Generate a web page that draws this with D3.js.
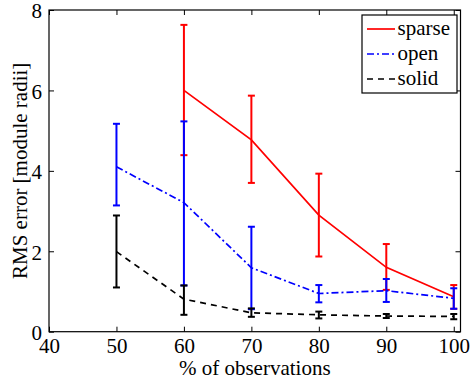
<!DOCTYPE html>
<html>
<head>
<meta charset="utf-8">
<script src="https://cdn.jsdelivr.net/npm/d3@7/dist/d3.min.js"></script>
<style>
  html, body { margin: 0; padding: 0; background: #fff; }
  svg { display: block; }
  text { font-family: "Liberation Serif", "Times New Roman", serif; fill: #000; }
</style>
</head>
<body>
<svg id="chart" width="472" height="380"></svg>
<script>
// Percentage of observations used
const observations = [50, 60, 70, 80, 90, 100];

// RMS error (module radii): mean, lower and upper error-bar ends
const sparseObs   = [60, 70, 80, 90, 100];
const sparseMean  = [6.00, 4.77, 2.90, 1.60, 0.87];
const sparseLow   = [4.39, 3.70, 1.87, 1.04, 0.57];
const sparseHigh  = [7.63, 5.87, 3.93, 2.18, 1.16];

const openMean    = [4.10, 3.21, 1.59, 0.95, 1.02, 0.83];
const openLow     = [3.14, 1.15, 0.56, 0.73, 0.74, 0.57];
const openHigh    = [5.17, 5.23, 2.61, 1.16, 1.31, 1.08];

const solidMean   = [1.99, 0.81, 0.47, 0.42, 0.39, 0.38];
const solidLow    = [1.10, 0.42, 0.37, 0.33, 0.34, 0.31];
const solidHigh   = [2.89, 1.15, 0.58, 0.50, 0.44, 0.44];

const xTicks = [40, 50, 60, 70, 80, 90, 100];
const yTicks = [0, 2, 4, 6, 8];

const seriesNames = ["sparse", "open", "solid"];

const FONT = "'Liberation Serif', 'Times New Roman', serif";
const svg = d3.select("#chart");
const plotLeft = 49, plotRight = 460.5, plotTop = 10, plotBottom = 331.7;

const x = d3.scaleLinear().domain([40, 101]).range([plotLeft, plotRight]);
const y = d3.scaleLinear().domain([0, 8]).range([plotBottom, plotTop]);

function build(xs, mean, low, high) {
  return xs.map((v, i) => ({ x: v, m: mean[i], lo: low[i], hi: high[i] }));
}

const series = [
  { name: seriesNames[0], color: "#ff0000", dash: null, data: build(sparseObs, sparseMean, sparseLow, sparseHigh) },
  { name: seriesNames[1], color: "#0000ff", dash: "7,3,2,3", data: build(observations, openMean, openLow, openHigh) },
  { name: seriesNames[2], color: "#000000", dash: "6,5", data: build(observations, solidMean, solidLow, solidHigh) }
];

// Axes frame with inward ticks on all sides
const tickLen = 5;
const axB = d3.axisBottom(x).tickValues(xTicks).tickSize(-tickLen).tickFormat(d3.format("d")).tickPadding(10);
const axT = d3.axisTop(x).tickValues(xTicks).tickSize(-tickLen).tickFormat("");
const axL = d3.axisLeft(y).tickValues(yTicks).tickSize(-tickLen).tickFormat(d3.format("d")).tickPadding(7);
const axR = d3.axisRight(y).tickValues(yTicks).tickSize(-tickLen).tickFormat("");

function styleAxis(g) {
  g.attr("font-family", FONT).attr("font-size", 21);
  g.select(".domain").remove();
  g.selectAll("line").attr("stroke", "#000").attr("stroke-width", 1);
  g.selectAll("text").style("font-size", "21px").style("font-family", FONT);
}

svg.append("g").attr("transform", `translate(0,${plotBottom})`).call(axB).call(styleAxis)
  .selectAll("text").attr("dy", "0.71em").attr("y", 6);
svg.append("g").attr("transform", `translate(0,${plotTop})`).call(axT).call(styleAxis);
svg.append("g").attr("transform", `translate(${plotLeft},0)`).call(axL).call(styleAxis)
  .selectAll("text").attr("dy", "0.38em");
svg.append("g").attr("transform", `translate(${plotRight},0)`).call(axR).call(styleAxis);

svg.append("rect")
  .attr("x", plotLeft).attr("y", plotTop)
  .attr("width", plotRight - plotLeft).attr("height", plotBottom - plotTop)
  .attr("fill", "none").attr("stroke", "#000").attr("stroke-width", 1.2);

// Series: connecting line plus error bars
const line = d3.line().x(d => x(d.x)).y(d => y(d.m));
const cap = 3.5;

series.forEach(s => {
  const g = svg.append("g");
  g.append("path")
    .datum(s.data)
    .attr("d", line)
    .attr("fill", "none")
    .attr("stroke", s.color)
    .attr("stroke-width", 1.7)
    .attr("stroke-dasharray", s.dash);

  const eb = g.selectAll(".eb").data(s.data).enter().append("g");
  eb.append("line")
    .attr("x1", d => x(d.x)).attr("x2", d => x(d.x))
    .attr("y1", d => y(d.lo)).attr("y2", d => y(d.hi))
    .attr("stroke", s.color).attr("stroke-width", 2);
  eb.append("line")
    .attr("x1", d => x(d.x) - cap).attr("x2", d => x(d.x) + cap)
    .attr("y1", d => y(d.lo)).attr("y2", d => y(d.lo))
    .attr("stroke", s.color).attr("stroke-width", 2);
  eb.append("line")
    .attr("x1", d => x(d.x) - cap).attr("x2", d => x(d.x) + cap)
    .attr("y1", d => y(d.hi)).attr("y2", d => y(d.hi))
    .attr("stroke", s.color).attr("stroke-width", 2);
});

// Axis titles
svg.append("text")
  .attr("x", (plotLeft + plotRight) / 2).attr("y", 375)
  .attr("text-anchor", "middle")
  .style("font-family", FONT)
  .style("font-size", "21px")
  .text("% of observations");

svg.append("text")
  .attr("transform", `translate(27,${(plotTop + plotBottom) / 2}) rotate(-90)`)
  .attr("text-anchor", "middle")
  .style("font-family", FONT)
  .style("font-size", "21px")
  .text("RMS error [module radii]");

// Legend
const lg = svg.append("g");
lg.append("rect")
  .attr("x", 362).attr("y", 15)
  .attr("width", 95).attr("height", 78)
  .attr("fill", "#fff").attr("stroke", "#000").attr("stroke-width", 1.2);

const rowY = d3.scalePoint().domain(seriesNames).range([29, 79]);
series.forEach(s => {
  const yy = rowY(s.name);
  lg.append("line")
    .attr("x1", 367).attr("x2", 395)
    .attr("y1", yy).attr("y2", yy)
    .attr("stroke", s.color).attr("stroke-width", 1.7)
    .attr("stroke-dasharray", s.dash);
  lg.append("text")
    .attr("x", 397.5).attr("y", yy)
    .attr("dy", "0.3em")
    .style("font-family", FONT)
    .style("font-size", "21px")
    .text(s.name);
});
</script>
</body>
</html>
